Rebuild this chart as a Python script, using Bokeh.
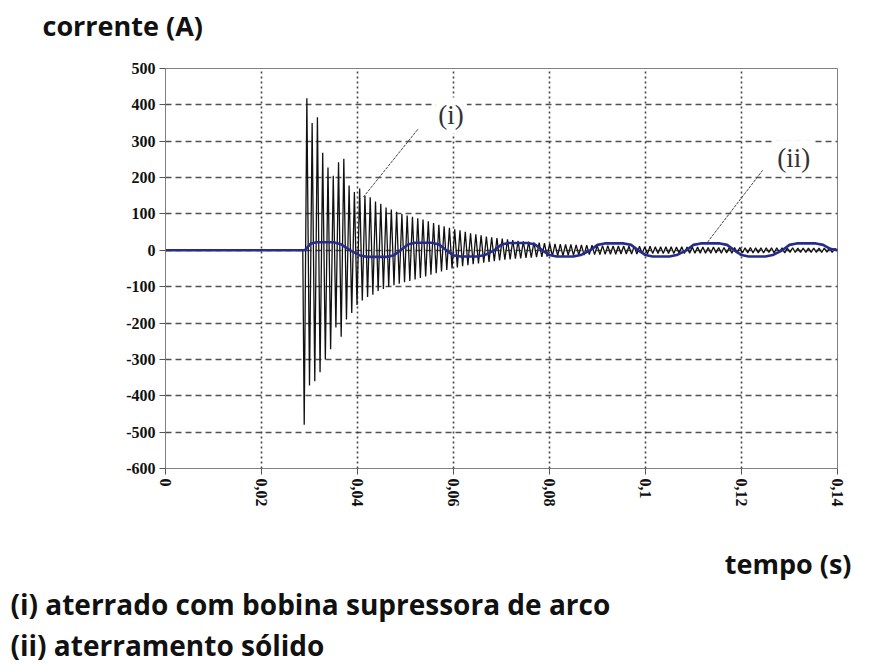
import math

from bokeh.plotting import figure
from bokeh.models import Range1d, FixedTicker, CustomJSTickFormatter, Label, Title
from bokeh.embed import file_html
from bokeh.resources import INLINE

# Axis ticks: time in seconds, current in amperes
x_ticks = [0, 0.02, 0.04, 0.06, 0.08, 0.10, 0.12, 0.14]
y_ticks = [-600, -500, -400, -300, -200, -100, 0, 100, 200, 300, 400, 500]

# (i) grounding through an arc-suppression coil:
# start time of each oscillation cycle (ms), its trough and its crest (A)
cycle_t_ms = [
    28.9, 30.0, 31.1, 32.2, 33.3, 34.4, 35.5, 36.6, 37.7, 38.8,
    39.9, 41.0, 42.1, 43.2, 44.3, 45.4, 46.5, 47.6, 48.7, 49.8,
    50.9, 52.0, 53.1, 54.2, 55.3, 56.4, 57.5, 58.6, 59.7, 60.8,
    61.9, 63.0, 64.1, 65.2, 66.3, 67.4, 68.5, 69.6, 70.7, 71.8,
    72.9, 74.0, 75.1, 76.2, 77.3, 78.4, 79.5, 80.6, 81.7, 82.8,
    83.9, 85.0, 86.1, 87.2, 88.3, 89.4, 90.5, 91.6, 92.7, 93.8,
    94.9, 96.0, 97.1, 98.2, 99.3, 100.4, 101.5, 102.6, 103.7, 104.8,
    105.9, 107.0, 108.1, 109.2, 110.3, 111.4, 112.5, 113.6, 114.7, 115.8,
    116.9, 118.0, 119.1, 120.2, 121.3, 122.4, 123.5, 124.6, 125.7, 126.8,
    127.9, 129.0, 130.1, 131.2, 132.3, 133.4, 134.5, 135.6, 136.7, 137.8,
    138.9,
]
cycle_lo = [
    -480, -372, -360, -335, -300, -272, -212, -238, -190, -172,
    -150, -138, -128, -122, -112, -106, -100, -96, -92, -88,
    -84, -80, -76, -72, -67, -63, -58, -54, -50, -47,
    -44, -41, -38, -36, -34, -32, -30, -28, -26, -25,
    -23, -22, -21, -20, -19, -18, -17, -16, -15, -15,
    -14, -14, -13, -13, -12, -12, -12, -11, -11, -11,
    -10, -10, -10, -10, -9, -10, -9, -9, -9, -9,
    -9, -8, -9, -8, -8, -8, -8, -8, -7, -8,
    -7, -8, -7, -7, -7, -7, -7, -7, -6, -7,
    -6, -7, -6, -6, -6, -6, -6, -6, -6, -5,
    -6,
]
cycle_hi = [
    418, 350, 366, 268, 228, 205, 242, 252, 178, 160,
    170, 150, 146, 134, 128, 118, 112, 106, 100, 96,
    92, 88, 85, 80, 75, 70, 66, 62, 58, 55,
    51, 47, 44, 41, 38, 36, 34, 32, 30, 28,
    26, 25, 24, 22, 21, 20, 19, 18, 17, 16,
    16, 15, 15, 14, 14, 13, 13, 13, 12, 12,
    12, 11, 11, 11, 10, 11, 10, 10, 10, 10,
    9, 10, 9, 9, 9, 9, 8, 9, 8, 8,
    8, 8, 8, 7, 8, 7, 7, 7, 7, 7,
    7, 6, 7, 6, 6, 6, 6, 6, 6, 6,
    5,
]
fault_start_ms = 28.6
end_ms = 140.0

# (ii) solid grounding: breakpoints of the fault current (ms, A)
solid_t_ms = [
    0.0, 29.0, 30.2, 31.5, 35.0, 36.5, 38.5, 40.5, 42.0, 46.0,
    47.5, 49.0, 50.5, 52.0, 55.5, 57.0, 58.5, 60.0, 61.5, 65.0,
    66.5, 68.5, 70.0, 71.5, 75.5, 77.0, 78.5, 80.0, 81.5, 85.0,
    86.5, 88.5, 90.0, 91.5, 95.5, 97.0, 98.5, 100.0, 101.5, 105.0,
    106.5, 108.5, 110.0, 111.5, 115.5, 117.0, 118.5, 120.0, 121.5, 125.0,
    126.5, 128.5, 130.0, 131.5, 135.5, 137.0, 138.5, 140.0,
]
solid_i = [
    0, 0, 18, 22, 22, 17, 0, -14, -18, -18,
    -14, 0, 16, 21, 21, 16, 0, -14, -17, -17,
    -13, 0, 16, 20, 20, 16, 0, -13, -17, -17,
    -13, 0, 15, 19, 19, 15, 0, -13, -17, -17,
    -13, 0, 15, 19, 19, 15, 0, -13, -17, -17,
    -13, 0, 15, 19, 19, 15, 4, 0,
]

# Call-outs: label position and leader line end points (s, A)
tag_i = (0.0595, 371)
lead_i_t = [0.0412, 0.0527]
lead_i_a = [146, 335]
tag_ii = (0.1309, 253)
lead_ii_t = [0.1129, 0.1244]
lead_ii_a = [22, 220]

# Assemble trace (i): flat until the fault, then trough/crest per cycle
coil_t = [0.0, fault_start_ms]
coil_i = [0, 0]
for k, t0 in enumerate(cycle_t_ms):
    t1 = cycle_t_ms[k + 1] if k + 1 < len(cycle_t_ms) else end_ms
    coil_t += [t0, (t0 + t1) / 2]
    coil_i += [cycle_lo[k], cycle_hi[k]]
coil_t.append(end_ms)
coil_i.append(0)
coil_s = [t / 1000 for t in coil_t]
solid_s = [t / 1000 for t in solid_t_ms]

W, H = 872, 664
LEFT, RIGHT, TOP, BOTTOM = 165, 35, 68, 196

p = figure(
    width=W, height=H,
    x_range=Range1d(0, 0.14), y_range=Range1d(-600, 500),
    output_backend="svg", toolbar_location=None,
    min_border_left=LEFT, min_border_right=RIGHT,
    min_border_top=TOP, min_border_bottom=BOTTOM,
    background_fill_color="white", border_fill_color="white",
)
p.outline_line_color = "#808080"
p.outline_line_width = 1

# Grid
p.xgrid.ticker = FixedTicker(ticks=x_ticks[1:-1])
p.ygrid.ticker = FixedTicker(ticks=y_ticks[1:-1])
p.xgrid.grid_line_color = "#444444"
p.xgrid.grid_line_width = 1.6
p.xgrid.grid_line_dash = "2 3"
p.ygrid.grid_line_color = "#333333"
p.ygrid.grid_line_width = 1.6
p.ygrid.grid_line_dash = "6 4"
p.ygrid.grid_line_alpha = 0.85

# Axes
for ax in (p.xaxis[0], p.yaxis[0]):
    ax.axis_line_color = "#808080"
    ax.major_tick_line_color = "#555555"
    ax.major_tick_out = 6
    ax.major_tick_in = 0
    ax.minor_tick_line_color = None
    ax.major_label_text_font = "Liberation Serif"
    ax.major_label_text_font_size = "16px"
    ax.major_label_text_font_style = "bold"
    ax.major_label_text_color = "#111111"
    ax.major_label_standoff = 4

p.xaxis.ticker = FixedTicker(ticks=x_ticks)
# decimal comma, no trailing zeros: 0, 0,02 ... 0,1 ... 0,14
p.xaxis.formatter = CustomJSTickFormatter(
    code="return String(Math.round(tick * 100) / 100).replace('.', ',');")
p.xaxis.major_label_orientation = -math.pi / 2
p.yaxis.ticker = FixedTicker(ticks=y_ticks)
p.yaxis.formatter = CustomJSTickFormatter(code="return String(tick);")

# Traces
p.line(coil_s, coil_i, line_color="#111111", line_width=1.3)
p.line(solid_s, solid_i, line_color="#262c8c", line_width=2.6)

# Call-outs
p.line(lead_i_t, lead_i_a, line_color="#444444", line_width=1, line_dash="3 1")
p.line(lead_ii_t, lead_ii_a, line_color="#444444", line_width=1, line_dash="3 1")
for (tx, ty), txt in ((tag_i, "(i)"), (tag_ii, "(ii)")):
    p.add_layout(Label(
        x=tx, y=ty, text=txt, text_align="center", text_baseline="middle",
        text_font="Liberation Serif", text_font_size="27px", text_color="#333333",
        background_fill_color="white", padding=3,
    ))


# Blank band that spaces the captions away from the frame
def gap(side, standoff):
    p.add_layout(Title(text=" ", text_font="Open Sans", text_font_size="12px",
                       standoff=standoff), side)


# Captions around the frame, set as title panels
def caption(text, side, align, offset, standoff, size):
    p.add_layout(Title(
        text=text, align=align, offset=offset, standoff=standoff,
        text_font="Open Sans", text_font_size=size, text_font_style="bold",
        text_color="#111111",
    ), side)


gap("above", 6)
caption("corrente (A)", "above", "left", 42 - LEFT, 0, "27px")
gap("below", 14)
caption("tempo (s)", "below", "right", -14, 0, "27px")
caption("(i) aterrado com bobina supressora de arco", "below", "left", 10 - LEFT, 2, "28px")
caption("(ii) aterramento sólido", "below", "left", 10 - LEFT, 0, "28px")

open("out.html", "w").write(file_html(p, INLINE))
